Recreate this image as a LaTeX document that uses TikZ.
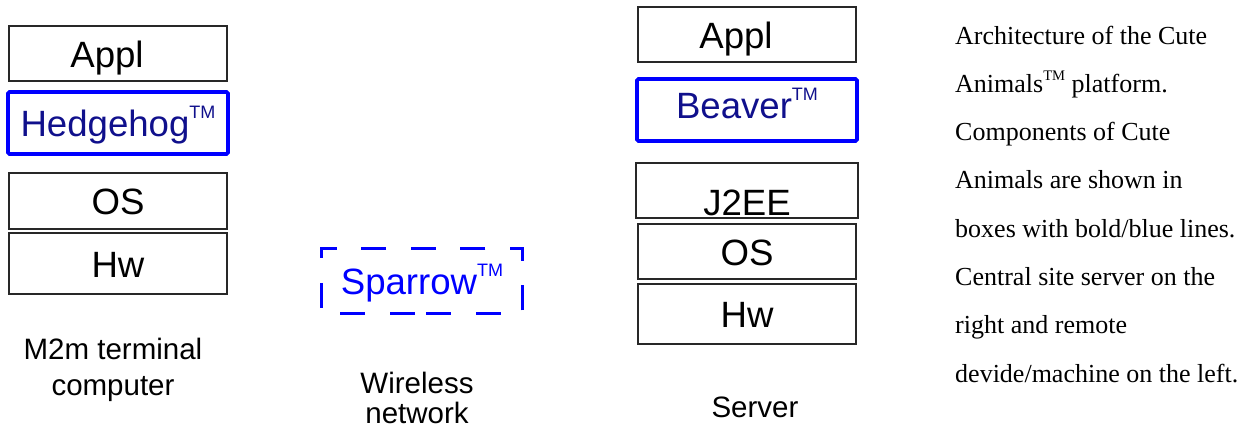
\documentclass[tikz,border=0pt]{standalone}
\usepackage{fontspec}
\usetikzlibrary{calc}
\setmainfont{Liberation Sans}
\newfontfamily\capfont{Liberation Serif}
\definecolor{boxblue}{RGB}{0,0,255}
\definecolor{navytext}{RGB}{16,16,140}
\definecolor{edgegray}{RGB}{40,40,40}
\newcommand\tmbox{\raisebox{18pt}{\fontsize{18}{18}\selectfont TM}}
\newcommand\tmcap{\raisebox{11.5pt}{\fontsize{14.6}{14.6}\selectfont TM}}
\begin{document}
\begin{tikzpicture}[x=1pt,y=-1pt,
  layer/.style={draw=edgegray, line width=1.1pt, rectangle, inner sep=0pt,
    minimum width=218pt, font=\fontsize{36.6}{40}\selectfont,
    text height=27pt, text depth=0pt},
  comp/.style={layer, draw=boxblue, line width=3.6pt, rounded corners=1.5pt,
    text=navytext, minimum width=220pt, minimum height=62pt},
  net/.style={layer, draw=none, text=boxblue, minimum width=200pt, minimum height=64pt},
  netborder/.style={draw=boxblue, line width=3.8pt, dash pattern=on 25pt off 24.6pt},
  lbl/.style={inner sep=0pt, anchor=north, align=center},
]
\useasboundingbox (0,0) rectangle (1254,434);

% left stack
\node[layer, minimum height=55pt] (lappl) at (118,53.5) {Appl\hspace*{22pt}};
\node[comp] (lhedge) at (118,123) {Hedgehog\tmbox};
\node[layer, minimum height=56pt] (los) at (118,201) {OS};
\node[layer, minimum height=61pt] (lhw) at (118,263.5) {Hw};

% network
\node[net] (sparrow) at (422,281) {Sparrow\tmbox};
\coordinate (dstart) at ($(sparrow.south west)+(105,0)$);
\draw[netborder] (dstart) -- (sparrow.south east) -- (sparrow.north east)
  -- (sparrow.north west) -- (sparrow.south west) -- cycle;

% right stack
\node[layer, minimum height=55pt] (rappl) at (747,34.5) {Appl\hspace*{22pt}};
\node[comp] (rbeaver) at (747,110) {\raisebox{5pt}{Beaver\tmbox}};
\node[layer, minimum width=222pt, minimum height=55pt] (rj2ee) at (747,190.5) {\raisebox{-11.5pt}{J2EE}};
\node[layer, minimum height=55pt] (ros) at (747,251.5) {OS};
\node[layer, minimum height=60pt] (rhw) at (747,314) {Hw};

% labels
\node[lbl, font=\fontsize{29.5}{36}\selectfont] (lterm) at (113,337.9) {M2m terminal\\computer};
\node[lbl, font=\fontsize{29.5}{30}\selectfont] (lnet) at (417,371.8) {Wireless\\network};
\node[inner sep=0pt, anchor=base, font=\fontsize{29.5}{30}\selectfont] (lserver) at (755,417) {Server};

% caption
\node[inner sep=0pt, anchor=north west, align=left,
      font=\capfont\fontsize{26}{48.3}\selectfont] (caption) at (955,25.5)
  {Architecture of the Cute\\
   Animals\tmcap{} platform.\\
   Components of Cute\\
   Animals are shown in\\
   boxes with bold/blue lines.\\
   Central site server on the\\
   right and remote\\
   devide/machine on the left.};
\end{tikzpicture}
\end{document}
